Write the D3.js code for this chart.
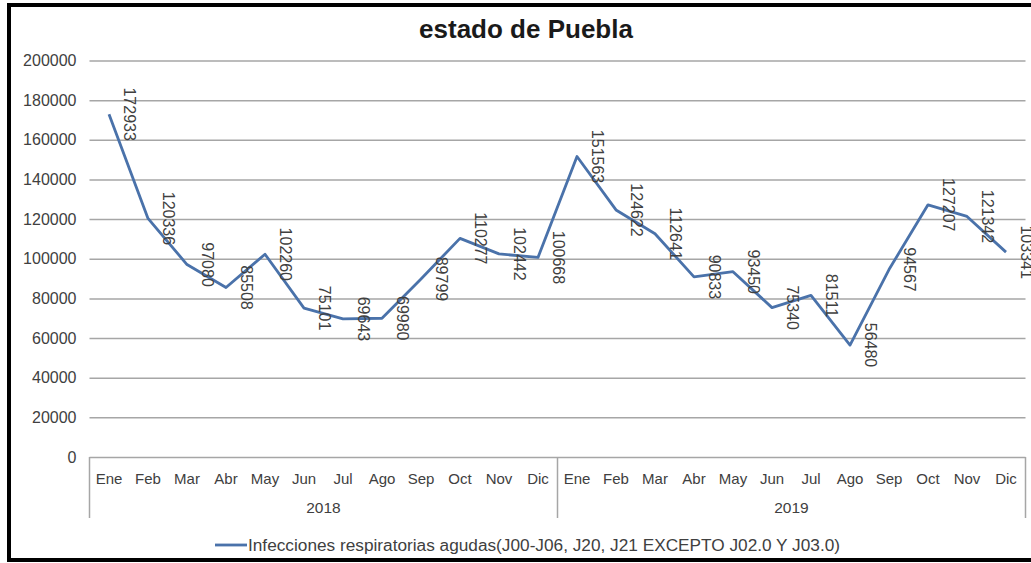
<!DOCTYPE html>
<html>
<head>
<meta charset="utf-8">
<script src="https://cdn.jsdelivr.net/npm/d3@7/dist/d3.min.js"></script>
<style>
  body { margin: 0; background: #fff; }
  svg { display: block; font-family: "Liberation Sans", Arial, sans-serif; }
</style>
</head>
<body>
<div class="chart"></div>
<script>
'use strict';

var years = ['2018', '2019'];
var months = ['Ene', 'Feb', 'Mar', 'Abr', 'May', 'Jun', 'Jul', 'Ago', 'Sep', 'Oct', 'Nov', 'Dic'];
var values2018 = [172933, 120336, 97080, 85508, 102260, 75101, 69643, 69980, 89799, 110277, 102442, 100668];
var values2019 = [151563, 124622, 112641, 90833, 93450, 75340, 81511, 56480, 94567, 127207, 121342, 103341];
var yTicks = [0, 20000, 40000, 60000, 80000, 100000, 120000, 140000, 160000, 180000, 200000];
var title = 'estado de Puebla';
var seriesName = 'Infecciones respiratorias agudas(J00-J06, J20, J21 EXCEPTO J02.0 Y J03.0)';

var width = 1031, height = 563;
var plot = {x0: 89.5, x1: 1025.5, y0: 60.5, y1: 457};

var data = [];
years.forEach(function(yr, yi) {
  var vals = yi === 0 ? values2018 : values2019;
  months.forEach(function(m, mi) {
    data.push({key: yr + '-' + m, year: yr, month: m, value: vals[mi]});
  });
});

var svg = d3.select('.chart').append('svg')
  .attr('width', width)
  .attr('height', height);

svg.append('rect')
  .attr('x', 0).attr('y', 0)
  .attr('width', width).attr('height', height)
  .attr('fill', '#fff');

// outer frame (right side falls off the picture, like the reference)
svg.append('rect')
  .attr('x', 9).attr('y', 5)
  .attr('width', width + 10).attr('height', 555)
  .attr('fill', 'none')
  .attr('stroke', '#000')
  .attr('stroke-width', 4);

var x = d3.scaleBand()
  .domain(data.map(function(d) { return d.key; }))
  .range([plot.x0, plot.x1])
  .padding(0);

var y = d3.scaleLinear()
  .domain([0, 200000])
  .range([plot.y1, plot.y0]);

// gridlines + y labels
var yAxis = d3.axisLeft(y)
  .tickValues(yTicks)
  .tickSize(-(plot.x1 - plot.x0))
  .tickPadding(13)
  .tickFormat(d3.format('d'));

var gy = svg.append('g')
  .attr('transform', 'translate(' + plot.x0 + ',0)')
  .call(yAxis);
gy.select('.domain').remove();
gy.selectAll('.tick line')
  .attr('stroke', '#a6a6a6')
  .attr('stroke-width', 1.5);
gy.selectAll('.tick text')
  .attr('fill', '#404040')
  .style('font-size', '16px');

// category table below the axis
var tableBottom = 518;
var gx = svg.append('g');
[plot.x0, (plot.x0 + plot.x1) / 2, plot.x1].forEach(function(xx) {
  gx.append('line')
    .attr('x1', xx).attr('x2', xx)
    .attr('y1', plot.y1).attr('y2', tableBottom)
    .attr('stroke', '#a6a6a6')
    .attr('stroke-width', 1.5);
});

gx.selectAll('text.month')
  .data(data)
  .enter().append('text')
  .attr('class', 'month')
  .attr('x', function(d) { return x(d.key) + x.bandwidth() / 2; })
  .attr('y', 484)
  .attr('text-anchor', 'middle')
  .attr('fill', '#404040')
  .style('font-size', '15px')
  .text(function(d) { return d.month; });

gx.selectAll('text.year')
  .data(years)
  .enter().append('text')
  .attr('class', 'year')
  .attr('x', function(yr) {
    var first = x(yr + '-' + months[0]);
    var last = x(yr + '-' + months[months.length - 1]) + x.bandwidth();
    return (first + last) / 2;
  })
  .attr('y', 513)
  .attr('text-anchor', 'middle')
  .attr('fill', '#404040')
  .style('font-size', '15.5px')
  .text(function(d) { return d; });

// series line
var line = d3.line()
  .x(function(d) { return x(d.key) + x.bandwidth() / 2; })
  .y(function(d) { return y(d.value); });

svg.append('path')
  .datum(data)
  .attr('d', line)
  .attr('fill', 'none')
  .attr('stroke', '#4a72aa')
  .attr('stroke-width', 2.8)
  .attr('stroke-linejoin', 'round');

// rotated data labels, right of each point
svg.selectAll('text.label')
  .data(data)
  .enter().append('text')
  .attr('class', 'label')
  .attr('transform', function(d) {
    var px = x(d.key) + x.bandwidth() / 2 + 21;
    var py = y(d.value);
    return 'translate(' + px + ',' + py + ') rotate(90)';
  })
  .attr('text-anchor', 'middle')
  .attr('dy', '0.35em')
  .attr('fill', '#404040')
  .style('font-size', '16px')
  .text(function(d) { return d.value; });

// title
svg.append('text')
  .attr('x', 526)
  .attr('y', 38)
  .attr('text-anchor', 'middle')
  .attr('fill', '#1a1a1a')
  .style('font-size', '26px')
  .style('font-weight', 'bold')
  .text(title);

// legend
var lg = svg.append('g').attr('transform', 'translate(215,545)');
lg.append('line')
  .attr('x1', 0).attr('x2', 32)
  .attr('y1', 0).attr('y2', 0)
  .attr('stroke', '#4a72aa')
  .attr('stroke-width', 2.8);
lg.append('text')
  .attr('x', 33)
  .attr('y', 0)
  .attr('dy', '0.35em')
  .attr('fill', '#404040')
  .attr('textLength', 592)
  .attr('lengthAdjust', 'spacingAndGlyphs')
  .style('font-size', '16px')
  .text(seriesName);
</script>
</body>
</html>
